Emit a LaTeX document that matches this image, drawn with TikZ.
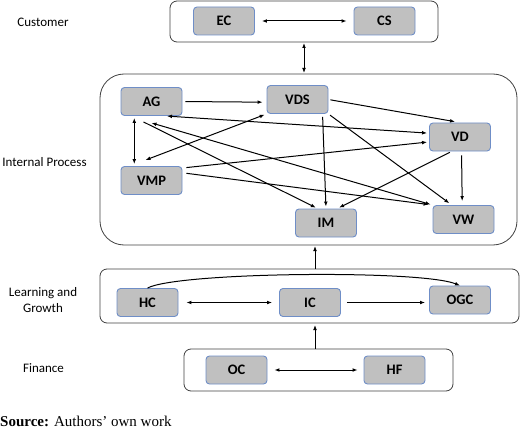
\documentclass[tikz,border=0pt]{standalone}
\usepackage{fontspec}
\setmainfont{Carlito}
\newfontfamily\srcfont{Liberation Serif}
\usetikzlibrary{arrows.meta}
\definecolor{boxgray}{RGB}{192,192,192}
\definecolor{boxblue}{RGB}{111,142,199}
\begin{document}
\begin{tikzpicture}[x=1pt, y=-1pt, >={Latex[length=5pt,width=3.8pt]},
  item/.style={draw=boxblue, fill=boxgray, rounded corners=3.5pt, line width=0.9pt, minimum width=61pt, minimum height=28pt, inner sep=0pt, font=\fontsize{14.5}{16}\selectfont\bfseries},
  layer/.style={draw=black!75, line width=0.8pt, rounded corners=7pt, inner sep=0pt, outer sep=0pt},
  side/.style={align=center, font=\fontsize{13}{16}\selectfont},
  link/.style={line width=1pt, shorten >=2pt, shorten <=2pt}]
\useasboundingbox (0,0) rectangle (520,428);
%layer boxes
\node[layer, minimum width=268pt, minimum height=41pt] (cust) at (304,21.5) {};
\node[layer, rounded corners=24pt, minimum width=417pt, minimum height=171pt] (proc) at (308.5,159.5) {};
\node[layer, minimum width=419pt, minimum height=54pt] (learn) at (309.5,296) {};
\node[layer, minimum width=269pt, minimum height=42pt] (fin) at (318.5,370) {};
\coordinate (mid) at (315,0);
%side labels
\node[side] (lcust) at (43,22) {Customer};
\node[side] (lproc) at (44.5,162) {Internal Process};
\node[side] (llearn) at (43,300) {Learning and\\Growth};
\node[side] (lfin) at (43.5,368) {Finance};
%items
\foreach \name/\x/\y in {EC/224/21, CS/384.5/21, AG/151.5/101.5, VDS/297.5/99.5, VD/460/137, VMP/151.5/180.5, IM/326/223, VW/463.5/219.5, HC/147.5/302.5, IC/310/302.5, OGC/460/300, OC/236.5/370, HF/394.5/370}{
   \node[item] (\name) at (\x,\y) {\name};
}
%between layers
\draw[link, <->, shorten >=1pt, shorten <=1pt] (cust.south) -- (cust.south |- proc.north);
\draw[link, ->, shorten >=1pt, shorten <=0pt] (mid |- learn.north) -- (mid |- proc.south);
\draw[link, ->, shorten >=2pt, shorten <=0pt] (mid |- fin.north) -- (mid |- learn.south);
%customer, learning and finance
\draw[link, <->, shorten >=7pt, shorten <=7pt] (EC) -- (CS);
\draw[link, <->, shorten >=7pt, shorten <=8pt] (HC) -- (IC);
\draw[link, ->, shorten >=4pt, shorten <=6pt] (IC.east) -- (OGC.west |- IC.east);
\draw[link, ->, shorten >=0pt, shorten <=0pt] (HC.north) .. controls ([shift={(30pt,16pt)}]HC.north) and ([shift={(-40pt,16pt)}]OGC.north) .. (OGC.north);
\draw[link, <->, shorten >=6pt, shorten <=7pt] (OC) -- (HF);
%internal process
\draw[link, ->, shorten >=4pt, shorten <=3pt] (AG.east) -- (VDS.185);
\draw[link, ->, shorten >=5pt] (VDS.east) -- (VD.north);
\draw[link, <->] (AG.-47) -- (VD.173);
\draw[link, <->] (AG.220) -- (VMP.140);
\draw[link, <->, shorten >=0pt] (VDS.south west) -- ([shift={(-6pt,6pt)}]VMP.north);
\draw[link, ->, shorten <=0pt] ([shift={(-8pt,-6pt)}]AG.south) -- (IM.120);
\draw[link, <->, shorten <=0pt] ([yshift=-7pt]AG.south) -- (VW.north west);
\draw[link, ->, shorten <=3pt] (VDS.-30) -- (IM.north);
\draw[link, ->, shorten >=3pt] (VDS.south east) -- (VW.129);
\draw[link, ->, shorten <=4pt] (VMP.22) -- (VD.189);
\draw[link, ->, shorten <=4pt, shorten >=4pt] (VMP.14) -- (VW.north west);
\draw[link, ->] (VD.-120) -- (IM.52);
\draw[link, ->, shorten >=4pt, shorten <=4pt] (VD.-84) -- (VW.95);
%source
\node[anchor=base west, inner sep=0pt, font=\srcfont\fontsize{15}{17}\selectfont] (src) at (0,426) {\textbf{Source:} Authors’ own work};
\end{tikzpicture}
\end{document}
